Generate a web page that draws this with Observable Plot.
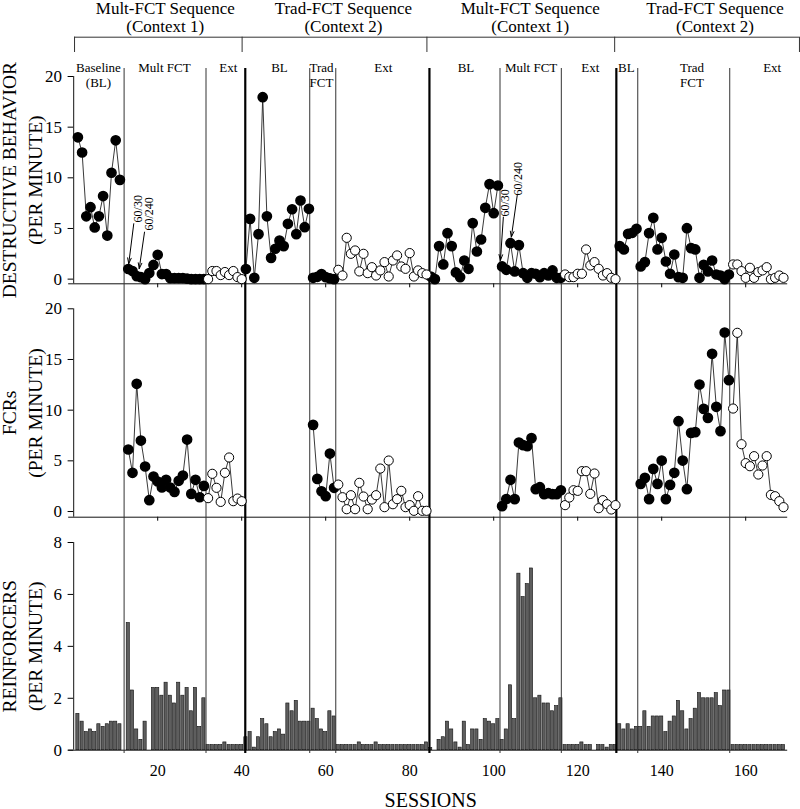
<!DOCTYPE html>
<html><head><meta charset="utf-8">
<script src="https://cdn.jsdelivr.net/npm/d3@7"></script>
<script src="https://cdn.jsdelivr.net/npm/@observablehq/plot@0.6"></script>
<style>
body{margin:0;background:#fff}
#chart{position:relative;width:800px;height:809px;overflow:hidden;background:#fff}
#chart svg{position:absolute;left:0}
</style>
</head><body><div id="chart"></div>
<script>
// ---- phases ----
const phaseNames  = ["BL","Mult FCT","Ext","BL","Trad FCT","Ext","BL","Mult FCT","Ext","BL","Trad FCT","Ext"];
const phaseStarts = [1, 13, 32, 41, 57, 63, 85, 102, 117, 130, 135, 157];
const extPhase    = [false,false,true,false,false,true,false,false,true,false,false,true];

// ---- destructive behavior (per minute) ----
const dbBL1   = [14.0, 12.5, 6.2, 7.1, 5.1, 6.2, 8.2, 4.3, 10.5, 13.7, 9.8];
const dbMult1 = [1.0, 0.8, 0.3, 0.2, 0.0, 0.6, 1.4, 2.4, 0.5, 0.5, 0.1, 0.1, 0.1, 0.1, 0.05, 0.0, 0.0, 0.0, 0.0];
const dbExt1  = [0.0, 0.8, 0.8, 0.4, 0.7, 0.4, 0.8, 0.2, 0.0];
const dbBL2   = [1.0, 5.95, 0.13, 4.44, 17.96, 6.2, 2.1, 3.0, 3.8, 3.26, 5.46, 6.9, 4.44, 7.76, 5.13, 6.94];
const dbTrad2 = [0.13, 0.23, 0.5, 0.2, 0.07, 0.0];
const dbExt2  = [0.92, 0.36, 4.08, 2.5, 2.83, 0.76, 2.5, 0.59, 1.18, 0.36, 0.86, 1.68, 0.26, 1.84, 2.34, 1.25, 1.02, 2.57, 0.26, 0.86, 0.59, 0.46];
const dbBL3   = [0.26, 0.0, 3.26, 1.45, 4.54, 3.26, 0.66, 0.2, 1.84, 1.02, 5.53, 2.73, 3.91, 7.04, 9.38, 6.51, 9.24];
const dbMult3 = [1.25, 0.92, 3.55, 0.76, 3.36, 0.59, 0.13, 0.59, 0.53, 0.2, 0.59, 0.36, 0.86, 0.13, 0.13];
const dbExt3  = [0.46, 0.2, 0.2, 0.53, 0.53, 2.93, 1.35, 1.68, 1.02, 0.36, 0.59, 0.13, 0.0];
const dbBL4   = [3.26, 2.93, 4.47, 4.57, 4.97];
const dbTrad4 = [1.25, 1.68, 4.54, 6.05, 2.93, 4.08, 1.74, 0.53, 2.43, 0.2, 0.13, 5.03, 3.06, 2.93, 0.13, 1.41, 0.76, 1.84, 0.46, 0.36, 0.0, 0.46];
const dbExt4  = [1.45, 1.45, 0.79, 0.13, 1.12, 0.13, 0.69, 0.86, 1.18, 0.0, 0.13, 0.36, 0.13];

// ---- FCRs (per minute) ----
const fcMult1 = [6.12, 3.82, 12.6, 7.0, 4.44, 1.12, 3.45, 2.96, 2.37, 3.13, 2.37, 1.94, 3.03, 3.55, 7.1, 1.74, 3.13, 1.41, 2.53];
const fcExt1  = [1.32, 3.72, 2.34, 0.95, 3.82, 5.33, 1.02, 1.28, 1.02];
const fcTrad2 = [8.55, 3.22, 2.0, 1.51, 5.72, 2.34];
const fcExt2  = [2.66, 1.41, 0.23, 1.61, 0.23, 2.83, 1.48, 0.23, 1.18, 1.61, 4.24, 0.43, 5.03, 0.72, 1.22, 2.04, 0.43, 0.63, 0.07, 1.51, 0.07, 0.07];
const fcMult3 = [0.53, 1.22, 3.13, 1.22, 6.81, 6.55, 6.45, 7.24, 2.2, 2.4, 1.71, 1.81, 1.71, 1.71, 2.1];
const fcExt3  = [0.63, 1.38, 2.1, 2.04, 3.98, 3.98, 1.74, 3.75, 0.33, 1.12, 0.72, 0.2, 0.63];
const fcTrad4 = [2.73, 3.32, 1.22, 4.21, 2.73, 5.03, 1.22, 2.63, 3.82, 8.91, 5.03, 2.2, 7.76, 7.83, 12.53, 10.13, 9.24, 15.56, 10.33, 7.93, 17.66, 12.96];
const fcExt4  = [10.16, 17.63, 6.64, 4.77, 4.47, 5.46, 3.65, 4.54, 5.46, 1.64, 1.51, 1.02, 0.43];

// ---- Reinforcers (per minute) ----
const rfBL1   = [1.4, 1.1, 0.7, 0.8, 0.7, 1.0, 0.9, 1.0, 1.1, 1.1, 1.0];
const rfMult1 = [4.9, 2.3, 0.8, 0.4, 1.1, null, 2.4, 2.4, 2.1, 2.6, 2.1, 1.8, 2.6, 2.1, 2.4, 1.5, 2.4, 0.9, 2.0];
const rfExt1  = [0.2, 0.2, 0.2, 0.2, 0.3, 0.2, 0.2, 0.2, 0.2];
const rfBL2   = [0.5, 0.7, 0.1, 0.5, 1.2, 1.0, 0.5, 0.7, 0.8, 0.6, 1.8, 1.5, 1.9, 1.1, 1.1, 1.1];
const rfTrad2 = [1.6, 1.2, 0.8, 0.7, 1.5, 1.3];
const rfExt2  = [0.2, 0.2, 0.2, 0.2, 0.2, 0.3, 0.2, 0.2, 0.2, 0.3, 0.2, 0.2, 0.2, 0.2, 0.2, 0.2, 0.2, 0.2, 0.2, 0.2, 0.2, 0.3];
const rfBL3   = [0.08, null, 0.4, 0.5, 1.1, 0.8, 0.3, 0.1, 1.1, 0.2, 0.8, 0.8, 0.4, 1.2, 1.1, 1.0, 1.2];
const rfMult3 = [0.4, 0.8, 2.5, 1.2, 6.8, 5.9, 6.4, 7.0, 2.0, 2.1, 1.8, 1.8, 1.5, 1.7, 2.0];
const rfExt3  = [0.2, 0.2, 0.2, 0.2, 0.3, 0.2, 0.2, null, 0.2, 0.2, 0.1, 0.2, 0.2];
const rfBL4   = [1.0, 0.8, 1.0, 0.8, 0.9];
const rfTrad4 = [0.9, 1.5, 0.9, 1.3, 1.3, 1.3, 0.7, 1.1, 1.3, 1.9, 1.5, 0.8, 1.2, 1.6, 2.2, 2.0, 2.0, 2.0, 2.2, 1.7, 2.3, 2.3];
const rfExt4  = [0.2, 0.2, 0.2, 0.2, 0.2, 0.2, 0.2, 0.2, 0.2, 0.2, 0.2, 0.2, 0.2];

const destructive = [dbBL1, dbMult1, dbExt1, dbBL2, dbTrad2, dbExt2, dbBL3, dbMult3, dbExt3, dbBL4, dbTrad4, dbExt4];
const fcrs        = [null, fcMult1, fcExt1, null, fcTrad2, fcExt2, null, fcMult3, fcExt3, null, fcTrad4, fcExt4];
const reinforcers = [rfBL1, rfMult1, rfExt1, rfBL2, rfTrad2, rfExt2, rfBL3, rfMult3, rfExt3, rfBL4, rfTrad4, rfExt4];

// ---- phase change lines, brackets, ticks ----
const thinLines  = [12.0, 31.5, 56.2, 62.4, 101.5, 116.1, 134.3, 156.2];
const thickLines = [40.85, 84.7, 129.2];
const bracketTicks = [0.2, 40.1, 84.1, 128.8, 172.8];
const xTicks = [20, 40, 60, 80, 100, 120, 140, 160];
const rateTicks = [0, 5, 10, 15, 20];
const rfTicks = [0, 2, 4, 6, 8];

// ---- text labels ----
const contextTitles = ["Mult-FCT Sequence\n(Context 1)", "Trad-FCT Sequence\n(Context 2)", "Mult-FCT Sequence\n(Context 1)", "Trad-FCT Sequence\n(Context 2)"];
const contextTitleAt = [21.8, 64.2, 108.7, 152.7];
const phaseLabels = ["Baseline\n(BL)", "Mult FCT", "Ext", "BL", "Trad\nFCT", "Ext", "BL", "Mult FCT", "Ext", "BL", "Trad\nFCT", "Ext"];
const phaseLabelAt = [5.9, 21.6, 36.8, 49, 59, 73.7, 93.4, 108.9, 123, 131.6, 147.2, 166.3];
const annTexts = ["60/30", "60/240", "60/30", "60/240"];
const annAt = [[15.3, 6.95], [17.9, 6.45], [102.8, 7.52], [105.9, 9.91]];
const arrowFrom = [[14.3, 5.47], [16.86, 4.64], [102.3, 6.12], [105.6, 8.26]];
const arrowTo   = [[13.1, 1.52], [15.6, 1.03], [101.6, 1.85], [104.2, 4.15]];

// ---- build tables ----
function rows(list) {
  const out = [];
  list.forEach((vals, p) => {
    if (!vals) return;
    vals.forEach((v, i) => { if (v !== null) out.push({session: phaseStarts[p] + i, value: v, phase: p, open: extPhase[p]}); });
  });
  return out;
}
const dbRows = rows(destructive);
const fcRows = rows(fcrs);
const rfRows = rows(reinforcers);
const titleRows = contextTitles.map((t, i) => ({t, x: contextTitleAt[i]}));
const labelRows = phaseLabels.map((t, i) => ({t, x: phaseLabelAt[i]}));
const annRows = annTexts.map((t, i) => ({t, x: annAt[i][0], y: annAt[i][1]}));
const arrowRows = arrowFrom.map((a, i) => ({x1: a[0], y1: a[1], x2: arrowTo[i][0], y2: arrowTo[i][1]}));

const W = 800, ML = 73.2, MR = 12.8;
const FONT = "'Liberation Serif', 'Times New Roman', serif";
const panelStyle = {fontFamily: FONT, fontSize: "17px", background: "transparent", overflow: "visible", color: "black"};

function seriesMarks(data) {
  return [
    Plot.line(data, {x: "session", y: "value", z: "phase", stroke: "#222", strokeWidth: 0.9}),
    Plot.dot(data.filter(d => !d.open), {x: "session", y: "value", r: 4.6, fill: "black", stroke: "black"}),
    Plot.dot(data.filter(d => d.open), {x: "session", y: "value", r: 4.6, fill: "white", stroke: "black", strokeWidth: 1})
  ];
}
function phaseRules(insetTop, insetBottom) {
  return [
    Plot.ruleX(thinLines, {insetTop, insetBottom, stroke: "#333", strokeWidth: 1}),
    Plot.ruleX(thickLines, {insetTop, insetBottom, stroke: "#000", strokeWidth: 2.2})
  ];
}
function yTitle(t) {
  return Plot.text([t], {text: d => d, frameAnchor: "left", textAnchor: "middle", rotate: -90, lineAnchor: "bottom", lineHeight: 1.33, fontSize: 19.5, dx: -31.7});
}

const chart = document.getElementById("chart");

// ---- top panel: destructive behavior ----
const topYmin = -0.46;
const topPlot = Plot.plot({
  width: W, height: 290, marginTop: 76, marginBottom: 6.7, marginLeft: ML, marginRight: MR,
  style: panelStyle,
  x: {domain: [0, 170]},
  y: {domain: [topYmin, 20]},
  marks: [
    Plot.axisX({ticks: xTicks, tickSize: 4, tickFormat: () => "", label: null}),
    Plot.axisY({ticks: rateTicks, tickSize: 5.6, tickPadding: 6, fontSize: 17, label: null}),
    Plot.ruleY([topYmin], {x1: -1.2, x2: 170, stroke: "#111"}),
    Plot.ruleX([0], {y1: topYmin, y2: 20, stroke: "#111"}),
    ...phaseRules(-8, -6.7),
    Plot.ruleX(bracketTicks, {insetTop: -39.3, insetBottom: 231.3, stroke: "#333"}),
    Plot.ruleY([20], {x1: bracketTicks[0], x2: bracketTicks[bracketTicks.length - 1], dy: -39.3, stroke: "#333"}),
    Plot.text(titleRows, {x: "x", text: "t", frameAnchor: "top", lineAnchor: "top", dy: -75.3, fontSize: 17, lineHeight: 1.06}),
    Plot.text(labelRows, {x: "x", text: "t", frameAnchor: "top", lineAnchor: "top", dy: -14.7, fontSize: 13, lineHeight: 1.15}),
    ...seriesMarks(dbRows),
    Plot.arrow(arrowRows, {x1: "x1", y1: "y1", x2: "x2", y2: "y2", headLength: 9, headAngle: 35, strokeWidth: 1, stroke: "black"}),
    Plot.text(annRows, {x: "x", y: "y", text: "t", rotate: -90, fontSize: 12}),
    yTitle("DESTRUCTIVE BEHAVIOR\n(PER MINUTE)")
  ]
});
topPlot.style.top = "0px";
chart.appendChild(topPlot);

// ---- middle panel: FCRs ----
const midYmin = -0.56;
const midPlot = Plot.plot({
  width: W, height: 230, marginTop: 18.3, marginBottom: 3.3, marginLeft: ML, marginRight: MR,
  style: panelStyle,
  x: {domain: [0, 170]},
  y: {domain: [midYmin, 20]},
  marks: [
    Plot.axisX({ticks: xTicks, tickSize: 4, tickFormat: () => "", label: null}),
    Plot.axisY({ticks: rateTicks, tickSize: 5.6, tickPadding: 6, fontSize: 17, label: null}),
    Plot.ruleY([midYmin], {x1: -1.2, x2: 170, stroke: "#111"}),
    Plot.ruleX([0], {y1: midYmin, y2: 20, stroke: "#111"}),
    ...phaseRules(-18.3, -3.3),
    ...seriesMarks(fcRows),
    yTitle("FCRs\n(PER MINUTE)")
  ]
});
midPlot.style.top = "290px";
chart.appendChild(midPlot);

// ---- bottom panel: reinforcers ----
const botPlot = Plot.plot({
  width: W, height: 289, marginTop: 22, marginBottom: 59.3, marginLeft: ML, marginRight: MR,
  style: panelStyle,
  x: {domain: [0, 170]},
  y: {domain: [0, 8]},
  marks: [
    Plot.axisX({ticks: xTicks, tickSize: 0, tickPadding: 14, fontSize: 16, label: null}),
    Plot.axisY({ticks: rfTicks, tickSize: 5.6, tickPadding: 6, fontSize: 17, label: null}),
    Plot.rectY(rfRows, {x1: d => d.session - 0.38, x2: d => d.session + 0.38, y: "value", fill: "#5e5e5e", stroke: "#111", strokeWidth: 0.6}),
    Plot.ruleY([0], {x1: -1.2, x2: 170, stroke: "#111"}),
    Plot.ruleX([0], {y1: 0, y2: 8, stroke: "#111"}),
    ...phaseRules(-22, -3.3),
    yTitle("REINFORCERS\n(PER MINUTE)"),
    Plot.text(["SESSIONS"], {text: d => d, frameAnchor: "bottom", lineAnchor: "bottom", dy: 56.3, fontSize: 20})
  ]
});
botPlot.style.top = "520px";
chart.appendChild(botPlot);
</script></body></html>
